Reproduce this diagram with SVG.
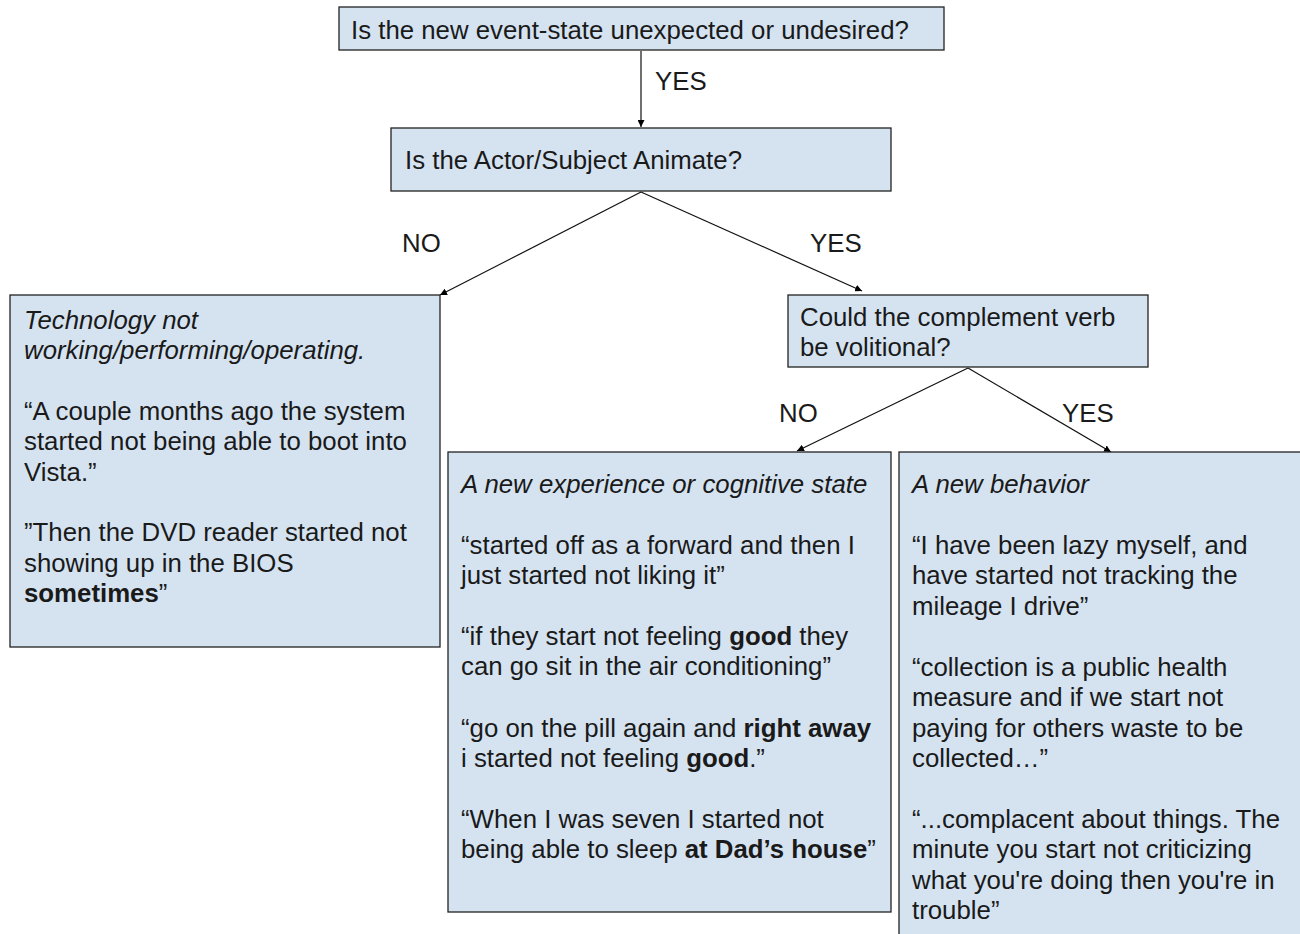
<svg xmlns="http://www.w3.org/2000/svg" width="1300" height="934" viewBox="0 0 1300 934">
<defs>
<marker id="ah" viewBox="0 0 10 10" refX="10" refY="5" markerWidth="7" markerHeight="7" markerUnits="userSpaceOnUse" orient="auto"><path d="M0,0 L10,5 L0,10 z" fill="#000"/></marker>
</defs>
<style>
.box{fill:#d5e3f1;stroke:#222;stroke-width:1.3}
text{font-family:"Liberation Sans",Arial,sans-serif;font-size:25.8px;fill:#1a1a1a}
.i{font-style:italic}
.b{font-weight:bold}
.conn line{stroke:#111;stroke-width:1.2;marker-end:url(#ah)}
</style>
<rect width="1300" height="934" fill="#fff"/>
<g class="conn" id="connectors">
<line x1="641" y1="51" x2="641" y2="127"/>
<line x1="641" y1="192" x2="440" y2="295"/>
<line x1="641" y1="192" x2="862" y2="291"/>
<line x1="968" y1="368" x2="797" y2="451"/>
<line x1="968" y1="368" x2="1111" y2="452"/>
<text x="655" y="90">YES</text>
<text x="402" y="252">NO</text>
<text x="810" y="252">YES</text>
<text x="779" y="422">NO</text>
<text x="1062" y="422">YES</text>
</g>
<g id="q1">
<rect class="box" x="339" y="7" width="605" height="43"/>
<text x="351" y="39">Is the new event-state unexpected or undesired?</text>
</g>
<g id="q2">
<rect class="box" x="391" y="128" width="500" height="63"/>
<text x="405" y="169">Is the Actor/Subject Animate?</text>
</g>
<g id="tech">
<rect class="box" x="10" y="295" width="430" height="352"/>
<text class="i" x="24" y="329">Technology not</text>
<text class="i" x="24" y="359">working/performing/operating.</text>
<text x="24" y="420">“A couple months ago the system</text>
<text x="24" y="450">started not being able to boot into</text>
<text x="24" y="481">Vista.”</text>
<text x="24" y="541">”Then the DVD reader started not</text>
<text x="24" y="572">showing up in the BIOS</text>
<text x="24" y="602"><tspan class="b">sometimes</tspan>”</text>
</g>
<g id="q3">
<rect class="box" x="788" y="295" width="360" height="72"/>
<text x="800" y="326">Could the complement verb</text>
<text x="800" y="356">be volitional?</text>
</g>
<g id="experience">
<rect class="box" x="448" y="452" width="443" height="460"/>
<text class="i" x="461" y="493">A new experience or cognitive state</text>
<text x="461" y="554">“started off as a forward and then I</text>
<text x="461" y="584">just started not liking it”</text>
<text x="461" y="645">“if they start not feeling <tspan class="b">good</tspan> they</text>
<text x="461" y="675">can go sit in the air conditioning”</text>
<text x="461" y="737">“go on the pill again and <tspan class="b">right away</tspan></text>
<text x="461" y="767">i started not feeling <tspan class="b">good</tspan>.”</text>
<text x="461" y="828">“When I was seven I started not</text>
<text x="461" y="858">being able to sleep <tspan class="b">at Dad’s house</tspan>”</text>
</g>
<g id="behavior">
<rect class="box" x="899" y="452" width="420" height="500"/>
<text class="i" x="912" y="493">A new behavior</text>
<text x="912" y="554">“I have been lazy myself, and</text>
<text x="912" y="584">have started not tracking the</text>
<text x="912" y="615">mileage I drive”</text>
<text x="912" y="676">“collection is a public health</text>
<text x="912" y="706">measure and if we start not</text>
<text x="912" y="737">paying for others waste to be</text>
<text x="912" y="767">collected…”</text>
<text x="912" y="828">“...complacent about things. The</text>
<text x="912" y="858">minute you start not criticizing</text>
<text x="912" y="889">what you're doing then you're in</text>
<text x="912" y="919">trouble”</text>
</g>
</svg>
